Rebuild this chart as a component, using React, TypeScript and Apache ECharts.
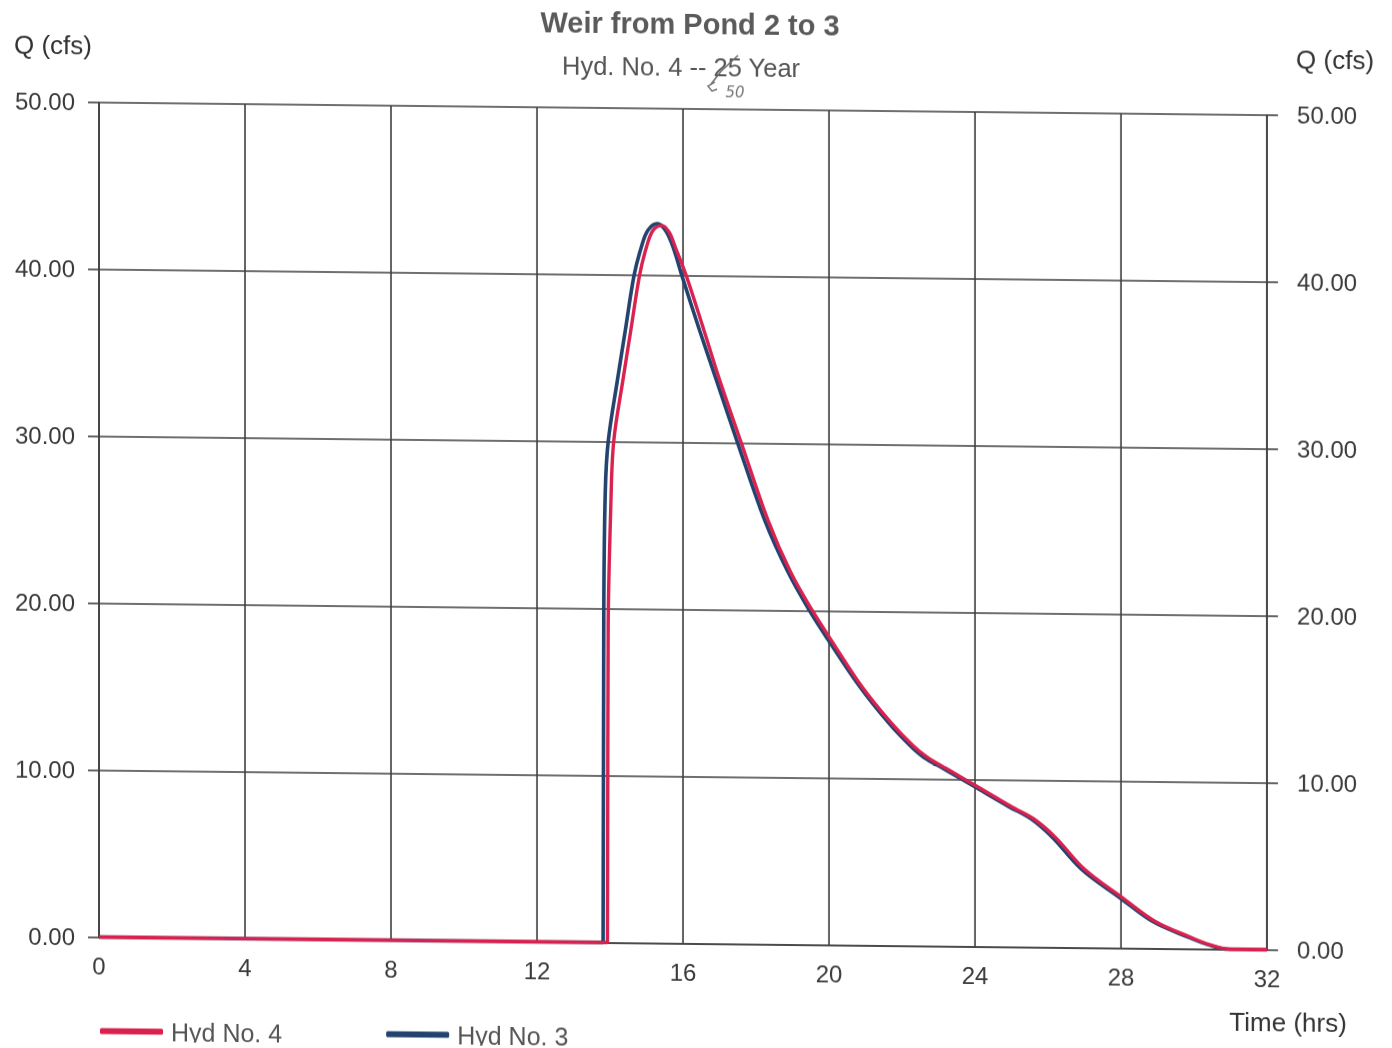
import React, { useEffect, useRef } from "react";
import * as echarts from "echarts";

// Hydrograph ordinates (hours, cfs)
const hoursNo4 = [0, 13.9, 13.93, 13.95, 14.02, 14.1, 14.36, 14.57, 14.81, 15.0, 15.18, 15.42, 15.62, 15.79, 16.09, 16.58, 17.0, 17.6, 18.33, 18.95, 19.55, 20.05, 20.9, 21.7, 22.3, 22.7, 23.25, 24.05, 25.0, 25.6, 26.2, 27.0, 28.05, 28.95, 29.9, 30.45, 31.0, 31.2, 32];
const flowNo4 = [0, 0, 0, 19.0, 26.0, 30.0, 33.8, 36.7, 40.0, 41.7, 42.7, 43.0, 42.6, 41.7, 40.0, 36.7, 33.8, 30.0, 25.4, 22.3, 20.0, 18.3, 15.5, 13.35, 12.0, 11.3, 10.6, 9.6, 8.4, 7.7, 6.6, 4.7, 3.0, 1.6, 0.7, 0.25, 0, 0, 0];

const hoursNo3 = [0, 13.78, 13.81, 13.83, 13.87, 13.95, 14.21, 14.42, 14.66, 14.86, 15.04, 15.3, 15.52, 15.73, 15.97, 16.46, 16.91, 17.5, 18.24, 18.88, 19.47, 19.97, 20.84, 21.63, 22.22, 22.6, 23.17, 23.97, 24.93, 25.53, 26.12, 26.92, 27.98, 28.88, 29.84, 30.4, 30.95, 31.15, 32];
const flowNo3 = [0, 0, 0, 20.0, 27.0, 30.0, 33.8, 36.7, 40.0, 41.7, 42.7, 43.1, 42.7, 41.7, 40.0, 36.7, 33.8, 30.0, 25.4, 22.3, 20.0, 18.3, 15.5, 13.35, 12.0, 11.3, 10.6, 9.6, 8.4, 7.7, 6.6, 4.7, 3.0, 1.6, 0.7, 0.25, 0, 0, 0];

const seriesNames = ["Hyd No. 4", "Hyd No. 3"];
const seriesColors = ["#d9214f", "#23436f"];

const FONT = "'Liberation Sans', Arial, Helvetica, sans-serif";
const GRID_COLOR = "#3f3f3f";

function pairs(xs: number[], ys: number[]) {
  return xs.map((x, i) => [x, ys[i]]);
}

export default function App() {
  const ref = useRef<HTMLDivElement>(null);

  useEffect(() => {
    if (!ref.current) return;
    const chart = echarts.init(ref.current, null, { renderer: "svg" });

    const yAxisBase = {
      type: "value",
      min: 0,
      max: 50,
      interval: 10,
      axisLine: { show: true, lineStyle: { color: GRID_COLOR, width: 1.6 } },
      axisTick: { show: true, inside: false, length: 11, lineStyle: { color: GRID_COLOR, width: 1.6 } },
      axisLabel: {
        fontSize: 24,
        fontFamily: FONT,
        color: "#3a3a3a",
        formatter: (v: number) => v.toFixed(2),
      },
    };

    chart.setOption({
      animation: false,
      backgroundColor: "#ffffff",
      grid: { left: 99, right: 125, top: 109, bottom: 104.5, containLabel: false },
      xAxis: {
        type: "value",
        min: 0,
        max: 32,
        interval: 4,
        axisLine: { show: true, lineStyle: { color: GRID_COLOR, width: 1.6 } },
        axisTick: { show: false },
        splitLine: { show: true, lineStyle: { color: GRID_COLOR, width: 1.6 } },
        axisLabel: { fontSize: 24, fontFamily: FONT, color: "#3a3a3a", margin: 17 },
      },
      yAxis: [
        {
          ...yAxisBase,
          position: "left",
          splitLine: { show: true, lineStyle: { color: GRID_COLOR, width: 1.6 } },
          axisLabel: { ...yAxisBase.axisLabel, margin: 24 },
        },
        {
          ...yAxisBase,
          position: "right",
          splitLine: { show: false },
          axisLabel: { ...yAxisBase.axisLabel, margin: 30 },
        },
      ],
      legend: {
        data: seriesNames,
        left: 95,
        top: 1020,
        icon: "roundRect",
        itemWidth: 63,
        itemHeight: 6,
        itemGap: 104,
        textStyle: { fontSize: 25, fontFamily: FONT, color: "#555555", padding: [0, 0, 0, 3] },
      },
      series: [
        {
          name: seriesNames[1],
          type: "line",
          data: pairs(hoursNo3, flowNo3),
          showSymbol: false,
          smooth: 0.35,
          clip: false,
          color: seriesColors[1],
          itemStyle: { color: seriesColors[1] },
          lineStyle: { color: seriesColors[1], width: 3.6 },
          z: 2,
        },
        {
          name: seriesNames[0],
          type: "line",
          data: pairs(hoursNo4, flowNo4),
          showSymbol: false,
          smooth: 0.35,
          clip: false,
          color: seriesColors[0],
          itemStyle: { color: seriesColors[0] },
          lineStyle: { color: seriesColors[0], width: 3.4 },
          z: 3,
        },
      ],
      graphic: [
        {
          type: "text",
          x: 690,
          y: 24,
          style: { text: "Weir from Pond 2 to 3", fontSize: 29, fontWeight: "bold", fontFamily: FONT, fill: "#5a5a5a", align: "center", verticalAlign: "middle" },
        },
        {
          type: "text",
          x: 681,
          y: 67,
          style: { text: "Hyd. No. 4 -- 25 Year", fontSize: 25.5, fontFamily: FONT, fill: "#555555", align: "center", verticalAlign: "middle" },
        },
        // pen correction over the return period
        {
          type: "polyline",
          shape: { points: [[711, 84], [721, 71], [738, 55]] },
          style: { stroke: "#6e6e6e", lineWidth: 1.6, fill: "none" },
        },
        {
          type: "polyline",
          shape: { points: [[715, 82], [708, 86], [712, 91], [717, 89]] },
          style: { stroke: "#6e6e6e", lineWidth: 1.4, fill: "none" },
        },
        {
          type: "text",
          x: 735,
          y: 92,
          style: { text: "50", fontSize: 15, fontStyle: "italic", fontFamily: "'DejaVu Sans', sans-serif", fill: "#777777", align: "center", verticalAlign: "middle" },
        },
        {
          type: "text",
          x: 53,
          y: 52,
          style: { text: "Q (cfs)", fontSize: 26, fontFamily: FONT, fill: "#333333", align: "center", verticalAlign: "middle" },
        },
        {
          type: "text",
          x: 1335,
          y: 53,
          style: { text: "Q (cfs)", fontSize: 26, fontFamily: FONT, fill: "#333333", align: "center", verticalAlign: "middle" },
        },
        {
          type: "text",
          x: 1288,
          y: 1016,
          style: { text: "Time (hrs)", fontSize: 26, fontFamily: FONT, fill: "#333333", align: "center", verticalAlign: "middle" },
        },
      ],
    });

    return () => chart.dispose();
  }, []);

  return (
    <div
      style={{
        position: "fixed",
        left: 0,
        top: 0,
        width: 1392,
        height: 1048,
        background: "#ffffff",
        transform: "skewY(0.62deg)",
        transformOrigin: "696px 524px",
      }}
    >
      <div ref={ref} style={{ width: 1392, height: 1048 }} />
    </div>
  );
}
